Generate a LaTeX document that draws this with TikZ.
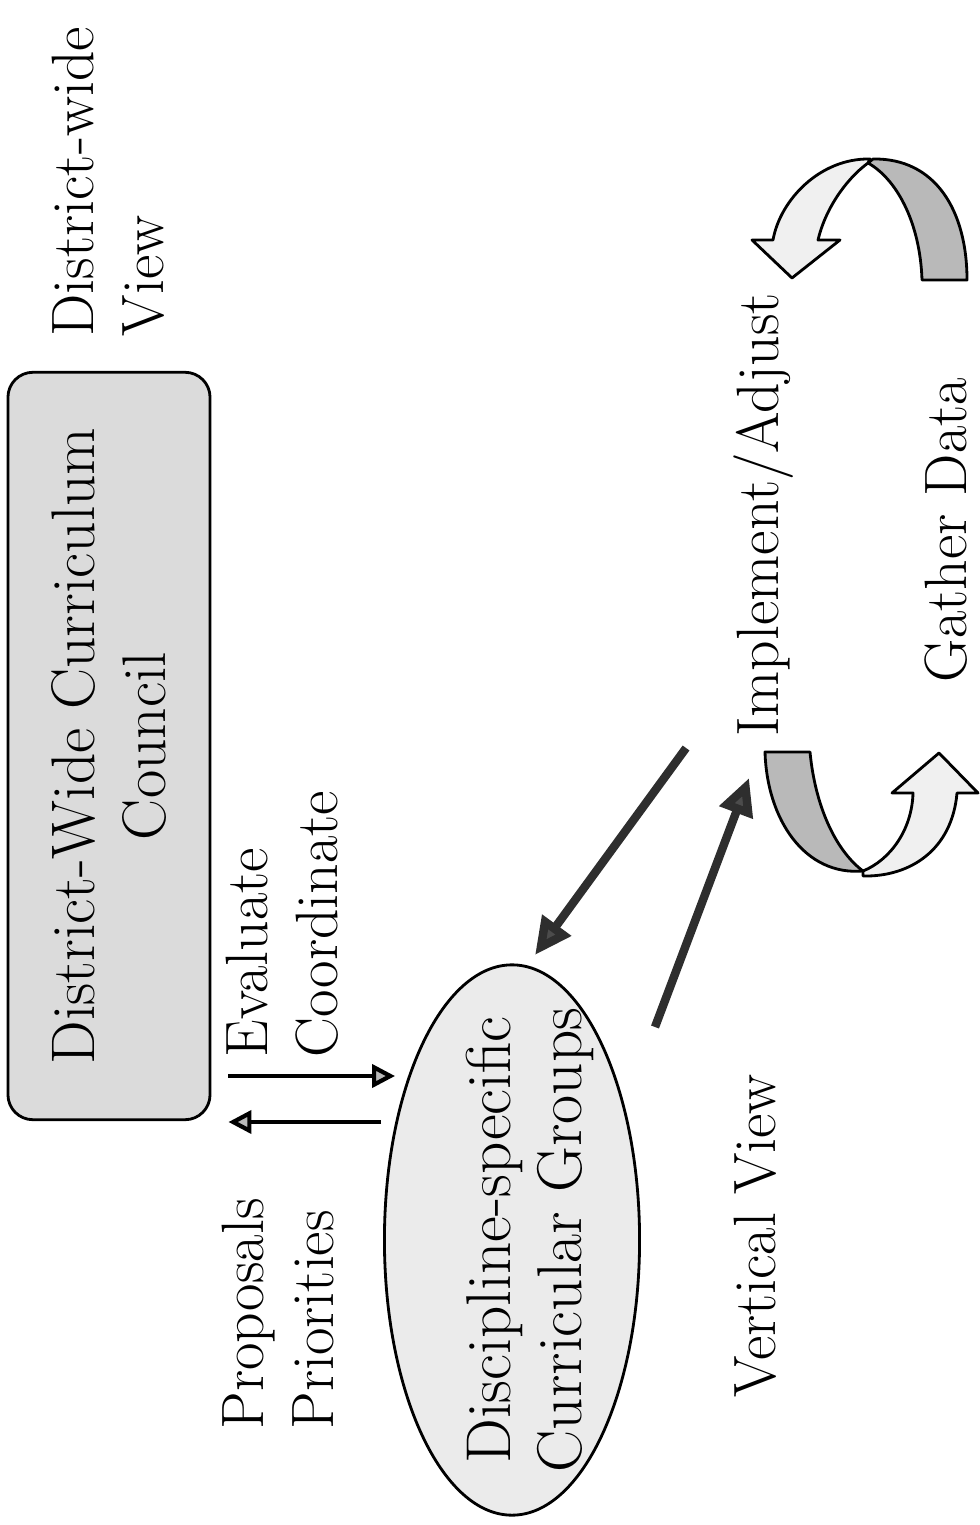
\documentclass[tikz,border=0pt]{standalone}
\usetikzlibrary{shapes.geometric, positioning, arrows.meta, calc}

\tikzset{
  lbl/.style={rotate=90, inner sep=0pt, font=\fontsize{17}{20}\selectfont},
  thinarr/.style={line width=1.2pt, -{Triangle[length=0.23cm,width=0.23cm,fill=gray!55]}},
  bigarr/.style={line width=2.4pt, draw=black!82, -{Triangle[length=0.37cm,width=0.34cm,fill=black!70]}},
  ribbon/.style={draw, line width=0.8pt, line join=round}
}

\begin{document}
\begin{tikzpicture}[x=0.01cm, y=-0.01cm]
  \useasboundingbox (0,0) rectangle (980,1525);
  \node[lbl, align=left, anchor=west] (dview) at (108,337) {District-wide\\View};
  \node[draw, rounded corners=0.25cm, fill=gray!28, line width=0.8pt, rotate=90,
        minimum width=7.47cm, minimum height=2.02cm, align=center,
        font=\fontsize{17.5}{20}\selectfont] (council) at (109,746)
    {District-Wide Curriculum\\Council};
  \node[lbl, align=left, anchor=west] (evalc) at (282,1058) {Evaluate\\Coordinate};
  \node[lbl, align=left, anchor=west] (propr) at (278,1430) {Proposals\\Priorities};
  \node[draw, ellipse, fill=gray!16, line width=0.8pt, rotate=90,
        minimum width=5.5cm, minimum height=2.55cm] (groups) at (512,1240) {};
  \node[lbl, align=center, font=\fontsize{18}{20}\selectfont] (groupstxt)
    at ($(groups)+(18,0)$) {Discipline-specific\\Curricular Groups};
  \node[lbl, anchor=base] (vview) at (775,1236) {Vertical View};
  \node[lbl, anchor=base] (impl) at (778,515) {Implement/Adjust};
  \node[lbl, anchor=base] (gather) at (966,530) {Gather Data};

  % council <-> groups
  \draw[thinarr, shorten <=0.17cm] (council.south |- 0,1076) -- ($(groups.north |- 0,1076)+(12,0)$);
  \draw[thinarr, shorten >=0.17cm] ($(groups.north |- 0,1122)+(-2,0)$) -- (council.south |- 0,1122);

  % groups <-> implement
  \draw[bigarr] ($(impl)+(-77,233)$) -- ($(groups)+(23,-285)$);
  \draw[bigarr] ($(groups)+(143,-213)$) -- ($(impl)+(-14,263)$);

  % cycle arrows
  \draw[ribbon, fill=gray!55] (873,159) .. controls (935,158) and (967,210) .. (967,280)
    -- (922,280) .. controls (920,220) and (895,178) .. (868,163) -- cycle;
  \draw[ribbon, fill=gray!12] (870,159) .. controls (820,158) and (780,200) .. (773,240)
    -- (752,240) -- (792,278) -- (840,240) -- (818,240)
    .. controls (825,210) and (845,180) .. (868,163) -- cycle;
  \draw[ribbon, fill=gray!55] (765,752) -- (810,752) .. controls (815,805) and (835,850) .. (863,871)
    .. controls (805,876) and (767,820) .. (765,752) -- cycle;
  \draw[ribbon, fill=gray!12] (863,871) .. controls (890,860) and (912,830) .. (913,793)
    -- (892,793) -- (939,753) -- (978,793) -- (957,793)
    .. controls (952,850) and (910,877) .. (863,876) -- cycle;
\end{tikzpicture}
\end{document}
